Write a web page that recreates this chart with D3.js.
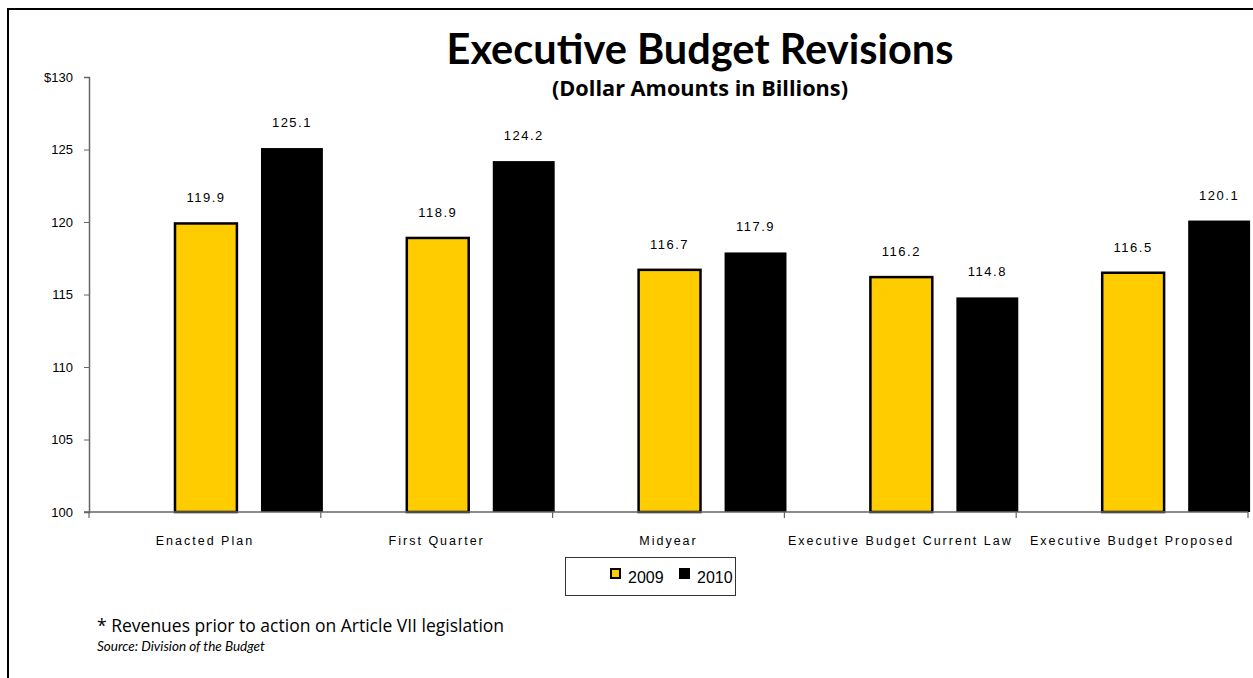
<!DOCTYPE html>
<html>
<head>
<meta charset="utf-8">
<script src="https://cdn.jsdelivr.net/npm/d3@7/dist/d3.min.js"></script>
<style>
  html, body { margin: 0; padding: 0; background: #fff; }
  svg { display: block; }
</style>
</head>
<body>
<script>
// Chart data
const categories = ["Enacted Plan", "First Quarter", "Midyear", "Executive Budget Current Law", "Executive Budget Proposed"];
const seriesNames = ["2009", "2010"];
const values2009 = [119.9, 118.9, 116.7, 116.2, 116.5];
const values2010 = [125.1, 124.2, 117.9, 114.8, 120.1];
const yTicks = [100, 105, 110, 115, 120, 125, 130];

const W = 1253, H = 678;
const colors = { "2009": "#FFCC00", "2010": "#000000" };

const svg = d3.select("body").append("svg").attr("width", W).attr("height", H);

// Frame lines (top and left)
svg.append("line").attr("x1", 8).attr("x2", W).attr("y1", 9).attr("y2", 9)
  .attr("stroke", "#000").attr("stroke-width", 2);
svg.append("line").attr("x1", 8).attr("x2", 8).attr("y1", 8).attr("y2", H)
  .attr("stroke", "#000").attr("stroke-width", 2);

// Titles
svg.append("text").attr("x", 700).attr("y", 64).attr("text-anchor", "middle")
  .style("font-family", "Lato, 'Open Sans', sans-serif").style("font-weight", "bold")
  .style("font-size", "41.5px").text("Executive Budget Revisions");
svg.append("text").attr("x", 700).attr("y", 96).attr("text-anchor", "middle")
  .style("font-family", "'Open Sans', Lato, sans-serif").style("font-weight", "bold")
  .style("font-size", "21.7px").text("(Dollar Amounts in Billions)");

// Scales
const x = d3.scaleBand().domain(categories).range([89, 1248]).padding(0);
const bw = x.bandwidth();
const xs = d3.scaleBand().domain(seriesNames)
  .range([bw * 0.371, bw * 1.009]).paddingInner(0.28).paddingOuter(0);
const y = d3.scaleLinear().domain([100, 130]).range([512, 77]);

// Bars
const rows = categories.map((c, i) => ({ c, v: [
  { s: "2009", val: values2009[i] },
  { s: "2010", val: values2010[i] }
]}));

const g = svg.append("g");
const groups = g.selectAll("g.cat").data(rows).join("g")
  .attr("class", "cat").attr("transform", d => `translate(${x(d.c)},0)`);

groups.selectAll("rect").data(d => d.v).join("rect")
  .attr("x", d => xs(d.s))
  .attr("y", d => y(d.val))
  .attr("width", xs.bandwidth())
  .attr("height", d => y(100) - y(d.val))
  .attr("fill", d => colors[d.s])
  .attr("stroke", "#000")
  .attr("stroke-width", d => d.s === "2009" ? 2.5 : 0);

groups.selectAll("text.val").data(d => d.v).join("text")
  .attr("class", "val")
  .attr("x", d => xs(d.s) + xs.bandwidth() / 2)
  .attr("y", d => y(d.val) - 21)
  .attr("text-anchor", "middle")
  .style("font-family", "Arial, 'Liberation Sans', sans-serif")
  .style("font-size", "13px").style("letter-spacing", "1.5px")
  .text(d => d.val.toFixed(1));

// Y axis
const yAxis = d3.axisLeft(y).tickValues(yTicks).tickSize(5).tickPadding(11)
  .tickFormat(d => d === 130 ? "$130" : String(d));
const gy = svg.append("g").attr("transform", "translate(89,0)").call(yAxis);
gy.select(".domain").attr("stroke", "#666").attr("stroke-width", 1.5);
gy.selectAll(".tick line").attr("stroke", "#666");
gy.selectAll(".tick text").style("font-family", "Arial, 'Liberation Sans', sans-serif")
  .style("font-size", "13px").attr("fill", "#000");

// X axis
const bounds = categories.map(c => x(c)).concat([x.range()[1]]);
svg.append("line").attr("x1", 84).attr("x2", 1248).attr("y1", y(100)).attr("y2", y(100))
  .attr("stroke", "#666").attr("stroke-width", 1.5);
svg.selectAll("line.xtick").data(bounds).join("line").attr("class", "xtick")
  .attr("x1", d => d).attr("x2", d => d).attr("y1", y(100)).attr("y2", y(100) + 6)
  .attr("stroke", "#666").attr("stroke-width", 1.2);
svg.selectAll("text.cat").data(categories).join("text").attr("class", "cat")
  .attr("x", d => x(d) + bw / 2).attr("y", 545).attr("text-anchor", "middle")
  .style("font-family", "Arial, 'Liberation Sans', sans-serif")
  .style("font-size", "12.5px").style("letter-spacing", "2px")
  .text(d => d);

// Legend
const lg = svg.append("g");
lg.append("rect").attr("x", 565.5).attr("y", 557.5).attr("width", 170).attr("height", 38)
  .attr("fill", "#fff").attr("stroke", "#333").attr("stroke-width", 1);
const legendItems = [
  { s: "2009", bx: 611, tx: 628 },
  { s: "2010", bx: 680, tx: 697 }
];
lg.selectAll("rect.key").data(legendItems).join("rect").attr("class", "key")
  .attr("x", d => d.bx).attr("y", 569).attr("width", 9).attr("height", 9)
  .attr("fill", d => colors[d.s]).attr("stroke", "#000").attr("stroke-width", 2);
lg.selectAll("text.key").data(legendItems).join("text").attr("class", "key")
  .attr("x", d => d.tx).attr("y", 583)
  .style("font-family", "Arial, 'Liberation Sans', sans-serif").style("font-size", "16px")
  .text(d => d.s);

// Footnotes
svg.append("text").attr("x", 97).attr("y", 632)
  .style("font-family", "'Open Sans', Lato, sans-serif").style("font-size", "17.5px")
  .text("* Revenues prior to action on Article VII legislation");
svg.append("text").attr("x", 97).attr("y", 651)
  .style("font-family", "Lato, 'Open Sans', sans-serif").style("font-style", "italic")
  .style("font-size", "13.5px")
  .text("Source: Division of the Budget");
</script>
</body>
</html>
